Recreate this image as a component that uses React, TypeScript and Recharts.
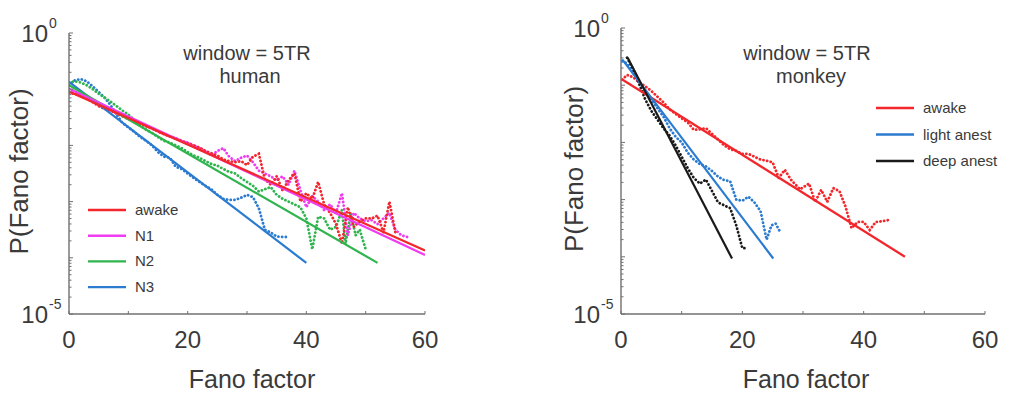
import React from "react"
import { LineChart, Line, XAxis, YAxis } from "recharts"

type Pair = [number, number] // [Fano factor, log10 P]

// ---- human, window = 5TR (dotted = measured, fit = straight line on log axis)
const HUMAN_AWAKE: Pair[] = [
  [0, -1.07], [1, -1.08], [2, -1.12], [3, -1.17], [4, -1.23], [5, -1.3], [6, -1.35], [7, -1.38],
  [8, -1.43], [9, -1.48], [10, -1.53], [11, -1.57], [12, -1.6], [13, -1.66], [14, -1.7], [15, -1.75],
  [16, -1.8], [17, -1.84], [18, -1.88], [19, -1.92], [20, -1.96], [21, -2.0], [22, -2.04], [23, -2.1],
  [24, -2.14], [25, -2.18], [26, -2.25], [27, -2.28], [28, -2.3], [29, -2.28], [30, -2.35], [31, -2.2],
  [32, -2.15], [33, -2.6], [34, -2.7], [35, -2.55], [36, -2.8], [37, -2.62], [38, -2.5], [39, -3.0],
  [40, -2.85], [41, -2.95], [42, -2.65], [43, -3.05], [44, -3.2], [45, -3.4], [46, -3.75], [47, -3.1],
  [48, -3.45], [49, -3.35], [50, -3.3], [51, -3.3], [52, -3.25], [53, -3.55], [54, -3.0], [55, -3.55],
]
const HUMAN_N1: Pair[] = [
  [0, -1.0], [1, -1.04], [2, -1.1], [3, -1.16], [4, -1.22], [5, -1.28], [6, -1.33], [7, -1.38],
  [8, -1.42], [9, -1.46], [10, -1.5], [11, -1.55], [12, -1.6], [13, -1.65], [14, -1.7], [15, -1.75],
  [16, -1.8], [17, -1.84], [18, -1.87], [19, -1.92], [20, -1.95], [21, -2.0], [22, -2.05], [23, -2.1],
  [24, -2.18], [25, -2.1], [26, -2.05], [27, -2.2], [28, -2.28], [29, -2.22], [30, -2.18], [31, -2.3],
  [32, -2.45], [33, -2.5], [34, -2.55], [35, -2.62], [36, -2.55], [37, -2.7], [38, -2.45], [39, -2.8],
  [40, -3.1], [41, -2.9], [42, -3.0], [43, -3.15], [44, -3.05], [45, -3.2], [46, -2.85], [47, -3.6],
  [48, -3.2], [49, -3.3], [50, -3.35], [51, -3.33], [52, -3.4], [53, -3.3], [54, -3.2], [55, -3.5],
  [56, -3.6], [57, -3.63],
]
const HUMAN_N2: Pair[] = [
  [0, -0.88], [1, -0.86], [2, -0.88], [3, -0.93], [4, -1.0], [5, -1.08], [6, -1.15], [7, -1.22],
  [8, -1.3], [9, -1.38], [10, -1.45], [11, -1.55], [12, -1.65], [13, -1.72], [14, -1.78], [15, -1.85],
  [16, -1.92], [17, -1.95], [18, -2.0], [19, -2.05], [20, -2.12], [21, -2.18], [22, -2.22], [23, -2.28],
  [24, -2.33], [25, -2.36], [26, -2.42], [27, -2.47], [28, -2.5], [29, -2.58], [30, -2.65], [31, -2.72],
  [32, -2.82], [33, -2.78], [34, -2.74], [35, -2.88], [36, -2.95], [37, -3.0], [38, -3.05], [39, -3.1],
  [40, -3.3], [41, -3.85], [42, -3.27], [43, -3.3], [44, -3.5], [45, -3.45], [46, -3.15], [46.6, -3.75],
  [47.5, -3.2], [48.3, -3.6], [49, -3.5], [50, -3.85],
]
const HUMAN_N3: Pair[] = [
  [0, -0.93], [1, -0.84], [2, -0.82], [3, -0.86], [4, -0.95], [5, -1.05], [6, -1.15], [7, -1.28],
  [8, -1.45], [9, -1.6], [10, -1.68], [11, -1.76], [12, -1.85], [13, -1.92], [14, -2.0], [15, -2.12],
  [16, -2.2], [17, -2.22], [18, -2.38], [19, -2.42], [20, -2.5], [21, -2.58], [22, -2.65], [23, -2.72],
  [24, -2.78], [25, -2.88], [26, -2.95], [27, -2.97], [28, -2.97], [29, -2.93], [30, -2.88], [31, -2.92],
  [32, -3.12], [33, -3.5], [34, -3.55], [35, -3.62], [36, -3.63], [37, -3.63],
]
const HUMAN_FIT_AWAKE: Pair[] = [[0, -1.04], [60, -3.87]]
const HUMAN_FIT_N1: Pair[] = [[0, -0.99], [60, -3.95]]
const HUMAN_FIT_N2: Pair[] = [[0, -0.93], [52, -4.09]]
const HUMAN_FIT_N3: Pair[] = [[0, -0.87], [40, -4.09]]

// ---- monkey, window = 5TR
const MONKEY_AWAKE: Pair[] = [
  [0.2, -0.9], [1, -0.82], [2, -0.86], [3, -0.95], [4, -1.02], [5, -1.1], [6, -1.2], [7, -1.3],
  [8, -1.42], [9, -1.5], [10, -1.58], [11, -1.65], [12, -1.78], [13, -1.77], [14, -1.75], [15, -1.85],
  [16, -1.95], [17, -2.05], [18, -2.12], [19, -2.15], [20, -2.2], [21, -2.2], [22, -2.25], [23, -2.3],
  [24, -2.32], [25, -2.35], [26, -2.62], [27, -2.48], [28, -2.65], [29.5, -2.82], [31, -2.72], [32, -3.04],
  [33, -2.83], [34, -3.04], [35, -2.8], [36, -2.85], [37, -3.12], [38, -3.5], [39, -3.39], [40, -3.39],
  [41, -3.53], [42, -3.39], [43, -3.38], [44, -3.36],
]
const MONKEY_LIGHT: Pair[] = [
  [0.2, -0.58], [1, -0.62], [2, -0.78], [3, -0.95], [4, -1.1], [5, -1.25], [6, -1.4], [7, -1.55],
  [8, -1.75], [9, -1.9], [10, -2.0], [11, -2.18], [12, -2.3], [13, -2.38], [14, -2.42], [15, -2.5],
  [16, -2.6], [17, -2.66], [18, -2.68], [19, -3.0], [20, -3.02], [21, -2.95], [22, -3.05], [23, -3.2],
  [24, -3.7], [24.8, -3.45], [25.5, -3.42], [26.2, -3.56],
]
const MONKEY_DEEP: Pair[] = [
  [1, -0.52], [2, -0.72], [3, -0.98], [4, -1.25], [5, -1.45], [6, -1.6], [7, -1.75], [8, -1.88],
  [9, -2.05], [10, -2.25], [11, -2.45], [12, -2.62], [13, -2.72], [14, -2.65], [15, -2.85], [16, -3.05],
  [17, -3.1], [18, -3.15], [19, -3.45], [20, -3.85], [20.8, -3.85],
]
const MONKEY_FIT_AWAKE: Pair[] = [[0.2, -0.9], [46.8, -4.0]]
const MONKEY_FIT_LIGHT: Pair[] = [[0.2, -0.55], [25.1, -4.03]]
const MONKEY_FIT_DEEP: Pair[] = [[1.1, -0.52], [18.3, -4.03]]

// ---- axes
const X_TICKS = [0, 10, 20, 30, 40, 50, 60]
const X_LABELS = [0, 20, 40, 60]
const DECADES = [-5, -4, -3, -2, -1]
const MINOR = [1, 2, 3, 4, 5, 6, 7, 8, 9]
const Y_TICKS = [...DECADES.flatMap((d) => MINOR.map((m) => m * 10 ** d)), 1]
const Y_LABELS = [0, -5] // exponents that get a "10^n" label

const RED = "#f2262b"
const MAGENTA = "#f03cf0"
const GREEN = "#2fb44e"
const BLUE = "#2b7bd0"
const BLACK = "#1a1a1a"
const AXIS = "#707070"
const TEXT = "#3a3a3a"
const FONT = "'Liberation Sans', Arial, sans-serif"

const pts = (p: Pair[]) => p.map(([x, l]) => ({ x, y: 10 ** l }))

type Series = { name: string; color: string; dots: Pair[]; fit: Pair[] }

type PanelProps = {
  left: number
  width: number
  plot: { x0: number; x1: number; y0: number; y1: number }
  series: Series[] // drawing order (last on top)
  legendItems: Series[] // legend order, top to bottom
  subtitle: string
  titleX: number
  subX: number
  legend: { x: number; y: number; gap: number }
  yLabelX: number
  xLabelX: number
}

const H = 396
const Y_AXIS_W = 60
const X_AXIS_H = 60

function Panel({
  left, width, plot, series, legendItems, subtitle, titleX, subX, legend, yLabelX, xLabelX,
}: PanelProps) {
  const margin = {
    top: plot.y0,
    left: plot.x0 - Y_AXIS_W,
    right: width - plot.x1,
    bottom: H - plot.y1 - X_AXIS_H,
  }

  const YTick = (props: any) => {
    const v = props.payload.value as number
    const e = Math.log10(v)
    const exp = Math.round(e)
    const major = Math.abs(e - exp) < 1e-6
    const y = props.y
    return (
      <g>
        <line x1={plot.x0} x2={plot.x0 + (major ? 4 : 2.5)} y1={y} y2={y} stroke={AXIS} strokeWidth={1} />
        {major && Y_LABELS.includes(exp) && (
          <g fill={TEXT} fontFamily={FONT}>
            <text x={plot.x0 - 21} y={y + 9} textAnchor="end" fontSize={24}>10</text>
            <text x={plot.x0 - 20} y={y - 5} textAnchor="start" fontSize={14}>{exp}</text>
          </g>
        )}
      </g>
    )
  }

  const XTick = (props: any) => {
    const v = props.payload.value as number
    const x = props.x
    return (
      <g>
        <line x1={x} x2={x} y1={plot.y1} y2={plot.y1 - 3} stroke={AXIS} strokeWidth={1} />
        {X_LABELS.includes(v) && (
          <text x={x} y={plot.y1 + 34} textAnchor="middle" fontSize={24} fill={TEXT} fontFamily={FONT}>
            {v}
          </text>
        )}
      </g>
    )
  }

  return (
    <div style={{ position: "absolute", left, top: 0, width, height: H }}>
      <LineChart width={width} height={H} margin={margin}>
        <XAxis
          dataKey="x"
          type="number"
          domain={[0, 60]}
          ticks={X_TICKS}
          interval={0}
          tick={XTick}
          tickLine={false}
          axisLine={{ stroke: AXIS, strokeWidth: 1.4 }}
          height={X_AXIS_H}
          allowDataOverflow
        />
        <YAxis
          type="number"
          scale="log"
          domain={[1e-5, 1]}
          ticks={Y_TICKS}
          interval={0}
          tick={YTick}
          tickLine={false}
          axisLine={{ stroke: AXIS, strokeWidth: 1.4 }}
          width={Y_AXIS_W}
          allowDataOverflow
        />
        {series.map((s) => (
          <Line
            key={s.name + "-dots"}
            data={pts(s.dots)}
            dataKey="y"
            type="linear"
            stroke={s.color}
            strokeWidth={2.8}
            strokeDasharray="0.1 3.6"
            strokeLinecap="round"
            dot={false}
            isAnimationActive={false}
          />
        ))}
        {series.map((s) => (
          <Line
            key={s.name + "-fit"}
            data={pts(s.fit)}
            dataKey="y"
            type="linear"
            stroke={s.color}
            strokeWidth={2.2}
            dot={false}
            isAnimationActive={false}
          />
        ))}
      </LineChart>
      <svg
        width={width}
        height={H}
        style={{ position: "absolute", left: 0, top: 0, pointerEvents: "none" }}
        fontFamily={FONT}
      >
        <text x={titleX} y={60} textAnchor="middle" fontSize={20} fill={TEXT}>window = 5TR</text>
        <text x={subX} y={83} textAnchor="middle" fontSize={20} fill={TEXT}>{subtitle}</text>
        {legendItems.map((s, i) => (
          <g key={s.name}>
            <line
              x1={legend.x}
              x2={legend.x + 38}
              y1={legend.y + i * legend.gap}
              y2={legend.y + i * legend.gap}
              stroke={s.color}
              strokeWidth={2.4}
            />
            <text x={legend.x + 47} y={legend.y + i * legend.gap + 5} fontSize={15} fill={TEXT}>
              {s.name}
            </text>
          </g>
        ))}
        <text
          transform={`translate(${yLabelX},${(plot.y0 + plot.y1) / 2 - 2}) rotate(-90)`}
          textAnchor="middle"
          dominantBaseline="central"
          fontSize={26}
          fill={TEXT}
        >
          P(Fano factor)
        </text>
        <text x={xLabelX} y={388} textAnchor="middle" fontSize={25} fill={TEXT}>Fano factor</text>
      </svg>
    </div>
  )
}

const H_AWAKE: Series = { name: "awake", color: RED, dots: HUMAN_AWAKE, fit: HUMAN_FIT_AWAKE }
const H_N1: Series = { name: "N1", color: MAGENTA, dots: HUMAN_N1, fit: HUMAN_FIT_N1 }
const H_N2: Series = { name: "N2", color: GREEN, dots: HUMAN_N2, fit: HUMAN_FIT_N2 }
const H_N3: Series = { name: "N3", color: BLUE, dots: HUMAN_N3, fit: HUMAN_FIT_N3 }

const MONKEY: Series[] = [
  { name: "awake", color: RED, dots: MONKEY_AWAKE, fit: MONKEY_FIT_AWAKE },
  { name: "light anest", color: BLUE, dots: MONKEY_LIGHT, fit: MONKEY_FIT_LIGHT },
  { name: "deep anest", color: BLACK, dots: MONKEY_DEEP, fit: MONKEY_FIT_DEEP },
]

export default function App() {
  return (
    <div style={{ position: "absolute", left: 0, top: 0, width: 1024, height: H, background: "#fff" }}>
      <Panel
        left={0}
        width={450}
        plot={{ x0: 69, x1: 425, y0: 33, y1: 314 }}
        series={[H_N3, H_N2, H_N1, H_AWAKE]}
        legendItems={[H_AWAKE, H_N1, H_N2, H_N3]}
        subtitle="human"
        titleX={247}
        subX={250}
        legend={{ x: 88, y: 210, gap: 25.7 }}
        yLabelX={19}
        xLabelX={252}
      />
      <Panel
        left={520}
        width={504}
        plot={{ x0: 101, x1: 465, y0: 28, y1: 314 }}
        series={MONKEY}
        legendItems={MONKEY}
        subtitle="monkey"
        titleX={287}
        subX={291}
        legend={{ x: 356, y: 108, gap: 26.5 }}
        yLabelX={54}
        xLabelX={286}
      />
    </div>
  )
}
